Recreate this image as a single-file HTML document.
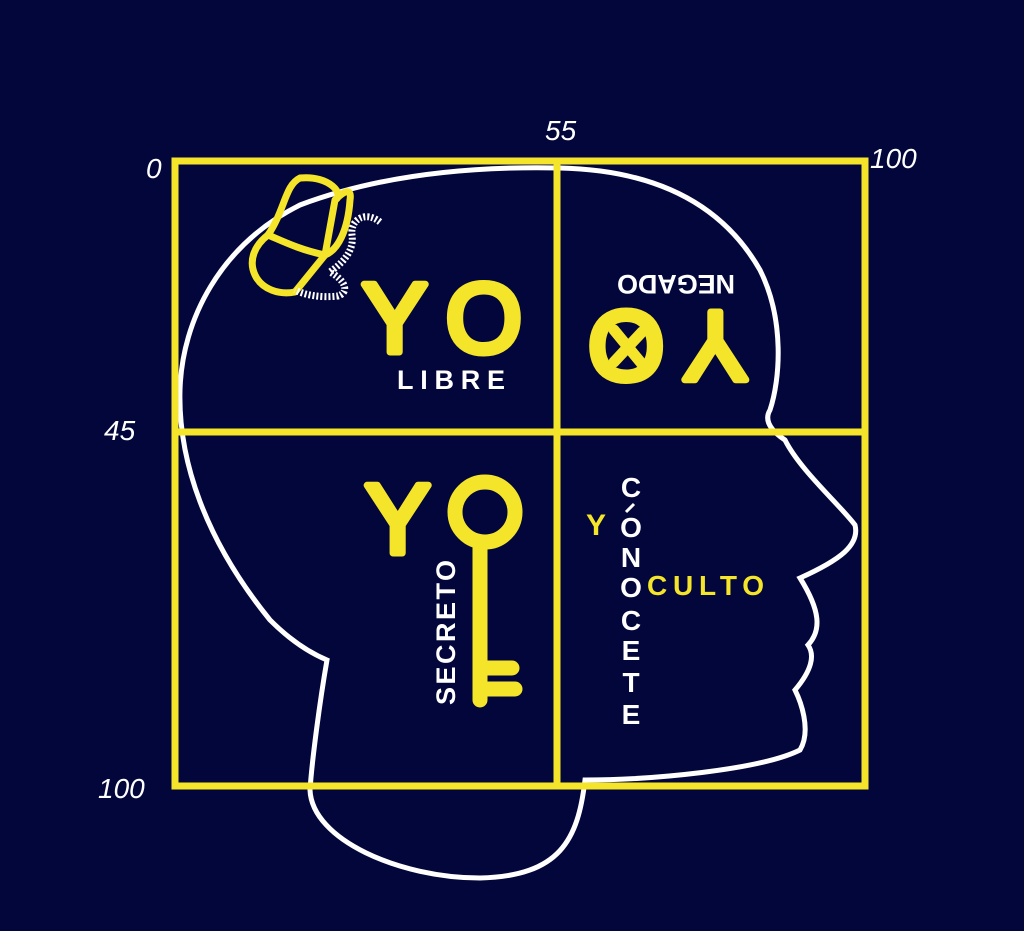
<!DOCTYPE html>
<html><head><meta charset="utf-8"><style>
html,body{margin:0;padding:0;background:#03063a;}
svg{display:block}
text{font-family:"Liberation Sans",sans-serif;}
</style></head><body>
<svg width="1024" height="931" viewBox="0 0 1024 931">
<rect width="1024" height="931" fill="#03063a"/>
<!-- head -->
<path d="M327,660 C320,700 312,760 310,790 C312,840 400,878 480,878 C560,876 578,840 585,780 C650,780 760,770 800,750 C812,730 800,700 795,690 C812,670 815,655 808,645 C822,630 820,610 800,578 C840,560 860,545 855,525 C840,505 800,470 785,440 C770,430 764,420 770,410 C780,380 785,320 760,270 C720,200 650,170 560,168 C470,166 380,175 300,205 C220,245 182,320 180,390 C178,460 205,540 270,620 C295,645 315,655 327,660 Z" fill="none" stroke="#fff" stroke-width="5"/>
<!-- grid -->
<g stroke="#f5e52a" stroke-width="7" fill="none">
<rect x="175" y="161" width="690" height="625"/>
<line x1="557" y1="161" x2="557" y2="786"/>
<line x1="175" y1="432" x2="865" y2="432"/>
</g>
<!-- labels -->
<g fill="#fff" font-size="28" font-style="italic">
<text x="545" y="140">55</text>
<text x="146" y="178">0</text>
<text x="870" y="168">100</text>
<text x="104" y="440">45</text>
<text x="98" y="798">100</text>
</g>
<!-- butterfly -->
<g fill="none" stroke="#f5e52a" stroke-width="7" stroke-linejoin="round">
<path d="M300,178 C330,175 345,195 335,200 L325,255 C300,250 280,240 268,235 C285,210 285,185 300,178 Z"/>
<path d="M268,235 C255,245 248,260 255,275 C262,290 280,295 295,292 L325,255"/>
<path d="M335,200 C345,190 352,188 350,200 C348,230 338,250 325,255"/>
</g>
<path d="M380,222 C365,210 350,220 352,235 C355,255 335,268 330,272 C345,280 350,292 338,296 C320,298 305,295 295,290" fill="none" stroke="#fff" stroke-width="7" stroke-dasharray="2 2"/>
<!-- YO LIBRE -->
<text x="362" y="352" font-size="98" fill="#f5e52a" stroke="#f5e52a" stroke-width="7" stroke-linejoin="round" textLength="160">YO</text>
<text x="397" y="389" font-size="27" font-weight="bold" fill="#fff" textLength="108">LIBRE</text>
<!-- YO negado rotated -->
<g transform="rotate(180 670 330)">
<text x="592" y="348" font-size="98" fill="#f5e52a" stroke="#f5e52a" stroke-width="7" stroke-linejoin="round" textLength="160">YO</text>
<text x="605" y="385" font-size="27" font-weight="bold" fill="#fff" textLength="118">NEGADO</text>
</g>
<g stroke="#f5e52a" stroke-width="11" stroke-linecap="round">
<line x1="614" y1="330" x2="642" y2="364"/>
<line x1="642" y1="332" x2="614" y2="362"/>
</g>
<!-- YO key -->
<text x="365" y="553" font-size="98" fill="#f5e52a" stroke="#f5e52a" stroke-width="7" stroke-linejoin="round" textLength="80">Y</text>
<g stroke="#f5e52a" stroke-width="15" stroke-linecap="round" fill="none">
<circle cx="485" cy="512" r="30"/>
<line x1="480" y1="545" x2="480" y2="700"/>
<line x1="480" y1="668" x2="512" y2="668"/>
<line x1="480" y1="689" x2="515" y2="689"/>
</g>
<text transform="translate(455,705) rotate(-90)" font-size="27" font-weight="bold" fill="#fff" textLength="145">SECRETO</text>
<!-- conocete -->
<g fill="#fff" font-size="28" font-weight="bold" text-anchor="middle">
<text x="631" y="497">C</text>
<text x="631" y="537">O</text>
<text x="631" y="567">N</text>
<text x="631" y="597">O</text>
<text x="631" y="630">C</text>
<text x="631" y="660">E</text>
<text x="631" y="692">T</text>
<text x="631" y="724">E</text>
</g>
<line x1="626" y1="512" x2="634" y2="504" stroke="#fff" stroke-width="3"/>
<text x="586" y="535" font-size="30" font-weight="bold" fill="#f5e52a">Y</text>
<text x="647" y="595" font-size="28" font-weight="bold" fill="#f5e52a" textLength="117">CULTO</text>
</svg>
</body></html>
